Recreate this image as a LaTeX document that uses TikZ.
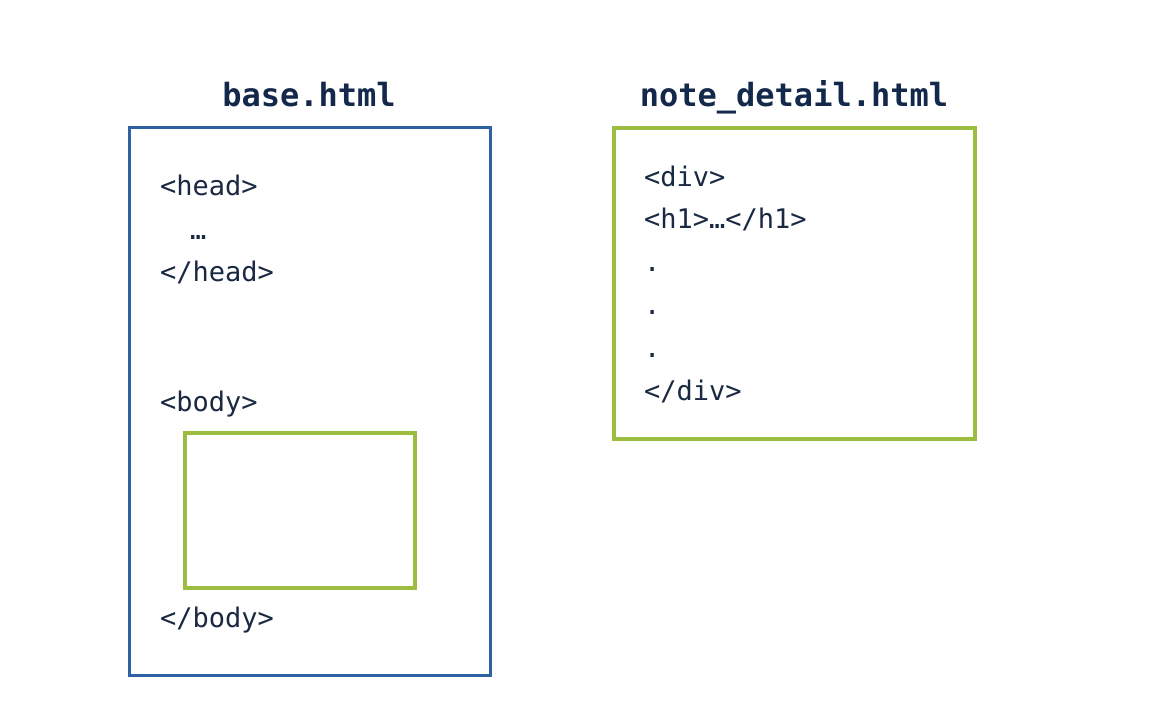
\documentclass[tikz,border=0pt]{standalone}
\usepackage{fontspec}
\setmonofont{DejaVu Sans Mono}
\begin{document}
\definecolor{frameblue}{HTML}{2F62A5}
\definecolor{framegreen}{HTML}{9CBD3F}
\definecolor{inkdark}{HTML}{1A2942}
\definecolor{titleink}{HTML}{13284A}
\begin{tikzpicture}[x=1pt,y=-1pt,
  codeline/.style={anchor=base west,inner sep=0pt,text=inkdark,font=\ttfamily\fontsize{27}{30}\selectfont},
  filetitle/.style={anchor=base,inner sep=0pt,text=titleink,font=\ttfamily\bfseries\fontsize{32}{36}\selectfont},
  outerframe/.style={draw=frameblue,line width=3pt},
  slotframe/.style={draw=framegreen,line width=3.2pt}]
\useasboundingbox[fill=white] (0,0) rectangle (1160,719);

% base.html
\node[filetitle] (basetitle) at (309,107) {base.html};
\draw[outerframe] (129,128) rectangle (490,675);
\node[codeline] (headopen) at (160,196) {<head>};
\node[codeline] (headdots) at (190,240) {…};
\node[codeline] (headclose) at (160,282) {</head>};
\node[codeline] (bodyopen) at (160,412) {<body>};
\draw[slotframe] (185,433) rectangle (415,588);
\node[codeline] (bodyclose) at (160,627) {</body>};

% note_detail.html
\node[filetitle] (notetitle) at (794,107) {note\_detail.html};
\draw[slotframe] (614,128) rectangle (975,439);
\node[codeline] (divopen) at (644,187) {<div>};
\node[codeline] (heading) at (644,229) {<h1>…</h1>};
\node[codeline] (dotA) at (644,272) {.};
\node[codeline] (dotB) at (644,315) {.};
\node[codeline] (dotC) at (644,358) {.};
\node[codeline] (divclose) at (644,401) {</div>};
\end{tikzpicture}
\end{document}
